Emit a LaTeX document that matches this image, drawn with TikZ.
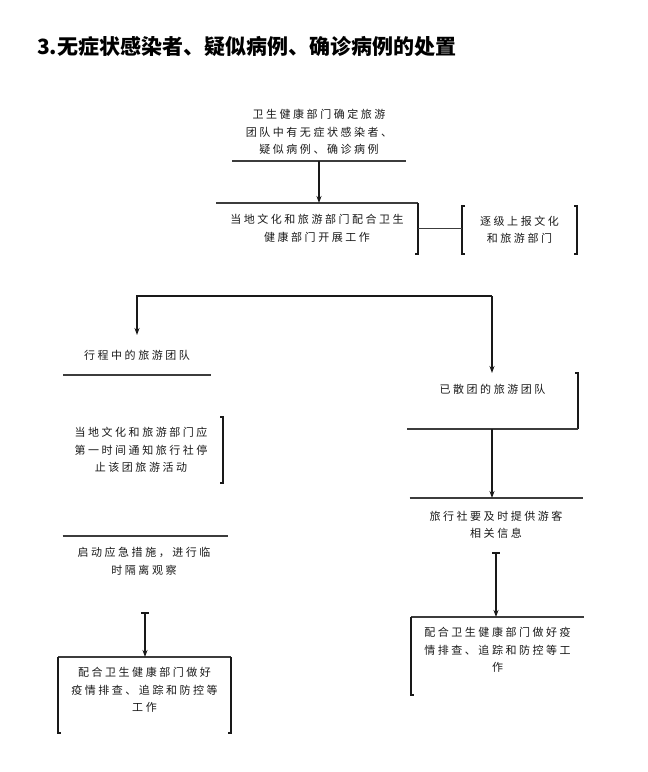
\documentclass[tikz,border=0pt]{standalone}
\usepackage{fontspec}
\usepackage{xcolor}
\usepackage{tikz}
\usetikzlibrary{
  arrows.meta,
  positioning,
  calc
}
\newfontfamily\cjk[LetterSpace=23]{Noto Sans CJK SC}
\newfontfamily\cjkhead{Noto Sans CJK SC}
\definecolor{inkblack}{RGB}{25,25,25}
\definecolor{rulegray}{RGB}{60,60,60}
\tikzset{
  stepbox/.style={
    rectangle, inner sep=0pt, outer sep=0pt, align=center,
    font=\cjk\fontsize{11}{17.5}\selectfont, text=inkblack
  },
  steptext/.style={
    inner sep=0pt, align=center,
    font=\cjk\fontsize{11}{17.5}\selectfont, text=inkblack
  },
  headtext/.style={
    inner sep=0pt, font=\cjkhead\bfseries\fontsize{21}{24}\selectfont, text=black
  },
  hrule/.style={draw=rulegray, line width=1.1pt},
  vrule/.style={draw=inkblack, line width=1.4pt},
  arrow/.style={-{Stealth[length=7pt, width=5pt]}, line width=1.3pt, inkblack},
  bararrow/.style={{Bar[width=8pt]}-{Stealth[length=7pt, width=5pt]}, line width=1.5pt, inkblack},
}

\begin{document}
\begin{tikzpicture}[x=1pt, y=-1pt]
  \useasboundingbox (0,0) rectangle (648,772);

  %% Title
  \node[headtext, anchor=west] (title) at (37,47)
  {3.无症状感染者、疑似病例、确诊病例的处置};

  %% Top of the chart
  \node[stepbox, minimum width=174pt, minimum height=58pt] (confirm) at (319,132)
  {卫生健康部门确定旅游\\团队中有无症状感染者、\\疑似病例、确诊病例};
  \node[stepbox, minimum width=202pt, minimum height=51pt] (coop) at (317,228.5)
  {当地文化和旅游部门配合卫生\\健康部门开展工作};
  \node[stepbox, minimum width=115pt, minimum height=48pt] (report) at (519.5,230)
  {逐级上报文化\\和旅游部门};

  %% Split into two branches
  \coordinate (split) at (492,296);
  \node[stepbox, minimum width=148pt, minimum height=40pt] (onroute) at (137,355)
  {行程中的旅游团队};
  \node[stepbox, minimum width=171pt, minimum height=56pt] (disband) at (492.5,401) {};
  \node[steptext] at ([yshift=12pt]disband.center) (disbandtxt) {已散团的旅游团队};

  %% Left branch
  \node[stepbox, minimum width=164pt, minimum height=66pt] (agency) at (141,450)
  {当地文化和旅游部门应\\第一时间通知旅行社停\\止该团旅游活动};
  \node[stepbox, minimum width=165pt, minimum height=76pt] (emergency) at (145,574) {};
  \node[steptext] at ([yshift=12.5pt, xshift=-1pt]emergency.center) (emergencytxt)
  {启动应急措施，进行临\\时隔离观察};
  \node[stepbox, minimum width=173pt, minimum height=76pt] (cooperL) at (144.5,695) {};
  \node[steptext] at ([yshift=5pt]cooperL.center) (cooperLtxt)
  {配合卫生健康部门做好\\疫情排查、追踪和防控等\\工作};

  %% Right branch
  \node[stepbox, minimum width=173pt, minimum height=54pt] (info) at (496,525)
  {旅行社要及时提供游客\\相关信息};
  \node[stepbox, minimum width=173pt, minimum height=78pt] (cooperR) at (497.5,656) {};
  \node[steptext] at ([yshift=6pt]cooperR.center) (cooperRtxt)
  {配合卫生健康部门做好疫\\情排查、追踪和防控等工\\作};

  %% Box edges that are left in the scan
  \draw[hrule] (confirm.south west) -- (confirm.south east);
  \draw[hrule] (coop.north west) -- (coop.north east);
  \draw[vrule] (coop.north east) -- (coop.south east) -- ++(-3,0);
  \draw[vrule] ([xshift=3pt]report.north west) -- (report.north west)
  -- (report.south west) -- ++(3,0);
  \draw[vrule] ([xshift=-3pt]report.north east) -- (report.north east)
  -- (report.south east) -- ++(-3,0);
  \draw[hrule] (onroute.south west) -- (onroute.south east);
  \draw[vrule] ([xshift=-3pt]disband.north east) -- (disband.north east) -- (disband.south east);
  \draw[hrule] (disband.south east) -- (disband.south west);
  \draw[vrule] ([xshift=-3pt]agency.north east) -- (agency.north east)
  -- (agency.south east) -- ++(-3,0);
  \draw[hrule] (emergency.north west) -- (emergency.north east);
  \draw[hrule] (cooperL.north west) -- (cooperL.north east);
  \draw[vrule] (cooperL.north west) -- (cooperL.south west) -- ++(3,0);
  \draw[vrule] (cooperL.north east) -- (cooperL.south east) -- ++(-3,0);
  \draw[hrule] (info.north west) -- (info.north east);
  \draw[hrule] (cooperR.north west) -- (cooperR.north east);
  \draw[vrule] (cooperR.north west) -- (cooperR.south west) -- ++(3,0);

  %% Arrows
  \draw[arrow] (confirm.south) -- (confirm.south |- coop.north);
  \draw[hrule] (coop.east) -- (coop.east -| report.west);
  \draw[arrow] (split) -| (onroute.north);
  \draw[arrow] (split) -- (split |- disband.north);
  \draw[arrow] (split |- disband.south) -- (split |- info.north);
  \draw[bararrow] (info.south) -- (info.south |- cooperR.north);
  \draw[bararrow] (emergency.south) -- (emergency.south |- cooperL.north);

\end{tikzpicture}
\end{document}
